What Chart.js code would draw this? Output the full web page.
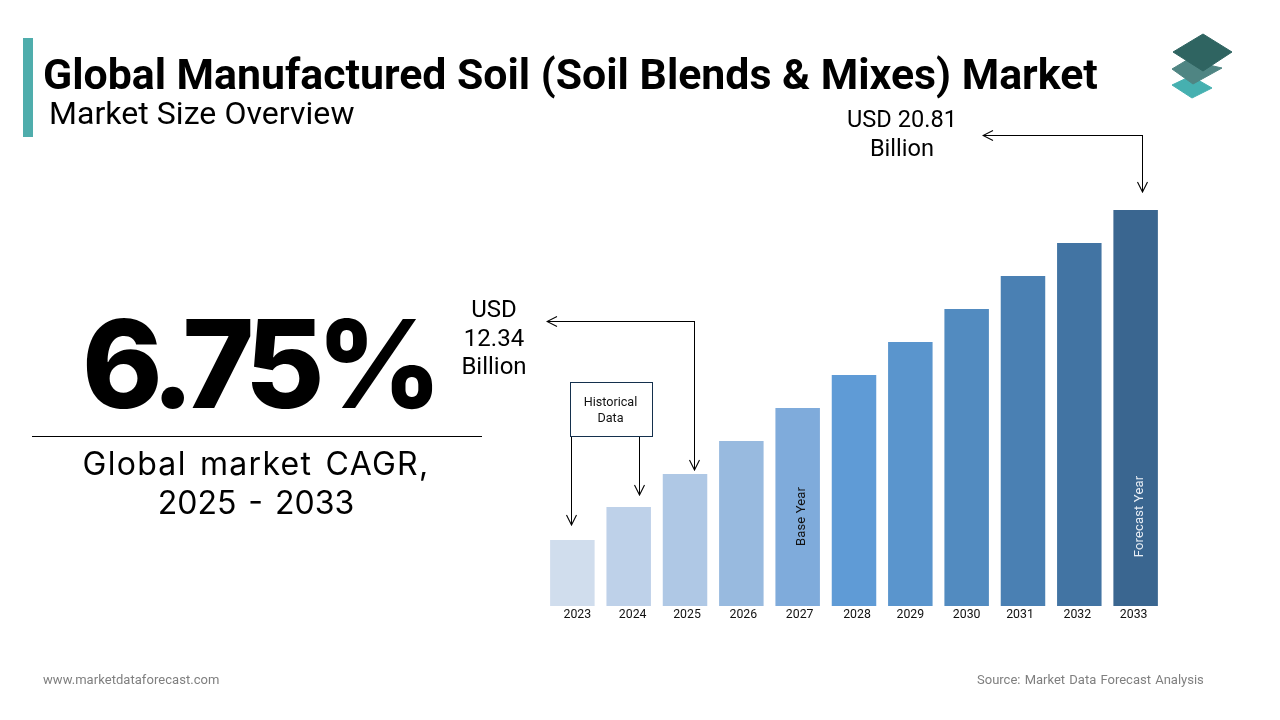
<!DOCTYPE html>
<html><head><meta charset="utf-8">
<script src="https://cdn.jsdelivr.net/npm/chart.js@4/dist/chart.umd.min.js"></script>
<style>
html,body{margin:0;padding:0;background:#fff;width:1280px;height:720px;overflow:hidden}
#wrap{position:relative;width:1280px;height:720px}
canvas#c{position:absolute;left:0;top:0}
svg#o{position:absolute;left:0;top:0}
.t{position:absolute;white-space:nowrap;color:#000;font-family:Roboto,sans-serif;line-height:1}
.c{text-align:center}
</style></head><body><div id="wrap">
<canvas id="c" width="1280" height="720" style="width:1280px;height:720px"></canvas>
<svg id="o" width="1280" height="720" viewBox="0 0 1280 720" fill="none">
<defs><marker id="a" viewBox="0 0 12 12" refX="11" refY="6" markerWidth="12" markerHeight="12" markerUnits="userSpaceOnUse" orient="auto"><path d="M1 1 L11 6 L1 11" stroke="#000" stroke-width="1.1" fill="none"/></marker></defs>
<rect x="23" y="38" width="10" height="99" fill="#4fadac"/>
<line x1="32" y1="436.5" x2="482" y2="436.5" stroke="#000" stroke-width="1"/>
<polygon points="1172,85 1191,76 1212,88 1192,98" fill="#46b0b0" stroke="#46b0b0" stroke-linejoin="round"/>
<polygon points="1172,69 1187,60 1222,68 1193,84" fill="#4f8583" stroke="#4f8583" stroke-linejoin="round"/>
<polygon points="1173,52 1203,34 1232,52 1203,71" fill="#2f6461" stroke="#2f6461" stroke-linejoin="round"/>
<path d="M1142 135.5 H983" stroke="#000" marker-end="url(#a)"/>
<path d="M1142.5 135 V192" stroke="#000" marker-end="url(#a)"/>
<path d="M694.5 321.5 H547" stroke="#000" marker-end="url(#a)"/>
<path d="M694.5 321 V470" stroke="#000" marker-end="url(#a)"/>
<path d="M571.5 436 V525" stroke="#000" marker-end="url(#a)"/>
<path d="M639.5 436 V495" stroke="#000" marker-end="url(#a)"/>
<rect x="570.5" y="382.5" width="82" height="54" fill="#fff" stroke="#14304d"/>
</svg>
<div class="t" id="ti" style="left:43px;top:53px;font-size:42.8px;font-weight:700">Global Manufactured Soil (Soil Blends &amp; Mixes) Market</div>
<div class="t" id="su" style="left:49px;top:97px;font-size:32px;letter-spacing:.05px">Market Size Overview</div>
<div class="t c" style="left:802px;width:200px;top:105px;font-size:23.6px;line-height:29px">USD 20.81<br>Billion</div>
<div class="t c" style="left:434px;width:120px;top:295px;font-size:24px;line-height:28.5px">USD<br>12.34<br>Billion</div>
<div class="t c" style="left:570px;width:81px;top:394px;font-size:12.6px;line-height:16px;color:#111">Historical<br>Data</div>
<div class="t c" id="big" style="left:0;width:516px;top:294px;font-family:Inter,sans-serif;font-size:122px;font-weight:800;line-height:140px;letter-spacing:-8px">6.75%</div>
<div class="t c" style="left:0;width:512px;top:444px;font-family:Inter,sans-serif;font-size:32px;line-height:39px;word-spacing:3px"><span style="letter-spacing:1.3px">Global market CAGR,</span><br>2025 - 2033</div>
<div class="t" style="left:43px;top:673px;font-size:13px;color:#7f7f7f;letter-spacing:.05px">www.marketdataforecast.com</div>
<div class="t" style="left:977px;top:673px;font-size:13px;color:#7f7f7f;letter-spacing:0;word-spacing:1px">Source: Market Data Forecast Analysis</div>
</div>
<script>
const years = ["2023","2024","2025","2026","2027","2028","2029","2030","2031","2032","2033"];
const marketSize = [3.47,5.20,6.94,8.67,10.41,12.14,13.87,15.61,17.34,19.07,20.81];
const barColors = ["#d0dded","#bed1e9","#afc8e5","#98badf","#7fabdb","#5f9bd6","#5a95cd","#528bc0","#4a80b3","#4274a3","#3a6690"];
const tickNudge = [5,4,2,2,2,3,0,0,-3,-2,-2];
const innerLabels = {"2027":["Base Year","#111"],"2033":["Forecast Year","#e8eef5"]};
const plugin = {
  id:"annot",
  afterLayout(chart){
    chart.scales.x.getLabelItems().forEach((it,i)=>{ it.options.translation[0] += tickNudge[i]; });
  },
  afterDatasetsDraw(chart){
    const {ctx,scales:{x}} = chart;
    ctx.save();
    ctx.font = "13px Roboto";
    ctx.letterSpacing = "0.15px";
    ctx.textAlign = "center"; ctx.textBaseline = "middle";
    Object.entries(innerLabels).forEach(([year,[text,color]])=>{
      ctx.save();
      ctx.translate(x.getPixelForValue(years.indexOf(year))+4,516.5);
      ctx.rotate(-Math.PI/2);
      ctx.fillStyle = color;
      ctx.fillText(text,0,0);
      ctx.restore();
    });
    ctx.restore();
  }
};
new Chart(document.getElementById("c"),{
  type:"bar",
  data:{labels:years,datasets:[{data:marketSize,backgroundColor:barColors,borderWidth:0,barPercentage:0.79,categoryPercentage:1}]},
  plugins:[plugin],
  options:{
    responsive:false,animation:false,devicePixelRatio:1,
    layout:{padding:{left:544.2,right:116.2,top:210,bottom:0}},
    plugins:{legend:{display:false},tooltip:{enabled:false},title:{display:false}},
    scales:{
      x:{
        grid:{display:false,drawTicks:false},border:{display:false},
        ticks:{color:"#111",font:{family:"Roboto",size:12.3},padding:2,maxRotation:0,autoSkip:false},
        afterFit(s){s.height=114;}
      },
      y:{display:false,min:0,max:20.81}
    }
  }
});
</script></body></html>
